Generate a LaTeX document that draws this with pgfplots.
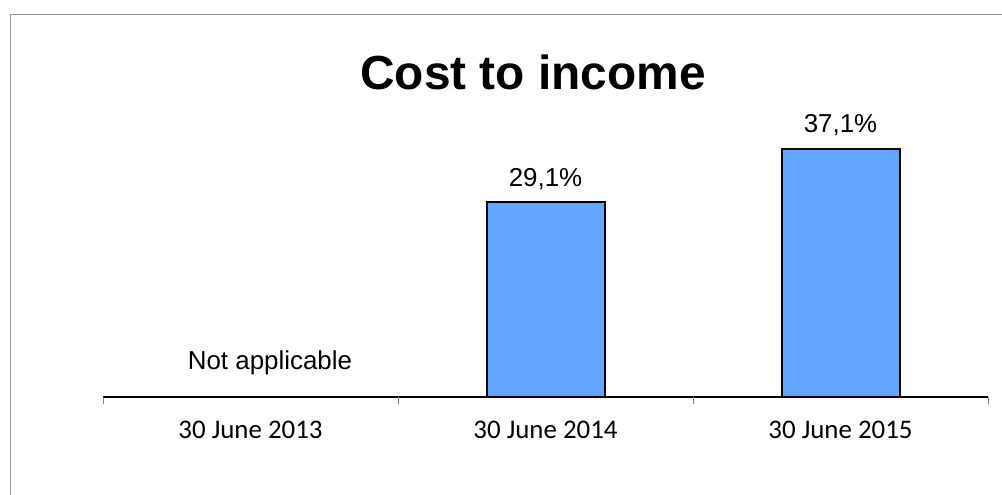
\documentclass[border=0pt]{standalone}
\usepackage{pgfplots}
\pgfplotsset{compat=1.18}
\usepackage{fontspec}
\setmainfont{Liberation Sans}
\newfontfamily\carlito{Carlito}
\definecolor{barblue}{RGB}{99,166,255}
\begin{document}
\begin{tikzpicture}
\path[use as bounding box] (0,0) rectangle (1002bp,495bp);
\draw[gray!80, line width=1bp] (10bp,480bp) -- (1002bp,480bp);
\draw[gray!80, line width=1bp] (10bp,480bp) -- (10bp,0bp);
\node[font=\fontsize{48}{56}\selectfont\bfseries] at (533bp,423bp) {Cost to income};
\begin{axis}[
  at={(103bp,98bp)}, anchor=south west,
  scale only axis, width=885bp, height=300bp,
  xmin=-0.5, xmax=2.5, ymin=0, ymax=44.84,
  axis x line*=bottom, axis y line=none,
  x axis line style={black, line width=1.3bp, -},
  xtick={0,1,2},
  xticklabels={30 June 2013, 30 June 2014, 30 June 2015},
  major tick length=0pt,
  xticklabel style={font=\carlito\fontsize{27}{30}\selectfont, anchor=north, inner sep=0pt, yshift=-24bp},
  extra x ticks={-0.5,0.5,1.5,2.5},
  extra x tick labels={},
  extra x tick style={major tick length=7bp, tick align=outside, tick style={gray, line width=1bp}},
  /pgf/number format/assume math mode=true,
  ybar, bar width=118bp,
  nodes near coords={\pgfmathprintnumber[fixed,fixed zerofill,precision=1,use comma]{\pgfplotspointmeta}\%},
  nodes near coords style={font=\fontsize{26}{30}\selectfont, anchor=base, inner sep=0pt, yshift=16bp},
  clip=false,
]
\addplot[fill=barblue, draw=black, line width=2bp] coordinates {(1,29.1) (2,37.1)};
\node[font=\fontsize{26}{30}\selectfont] at (axis cs:0.066,5.1) {Not applicable};
\end{axis}
\end{tikzpicture}
\end{document}
